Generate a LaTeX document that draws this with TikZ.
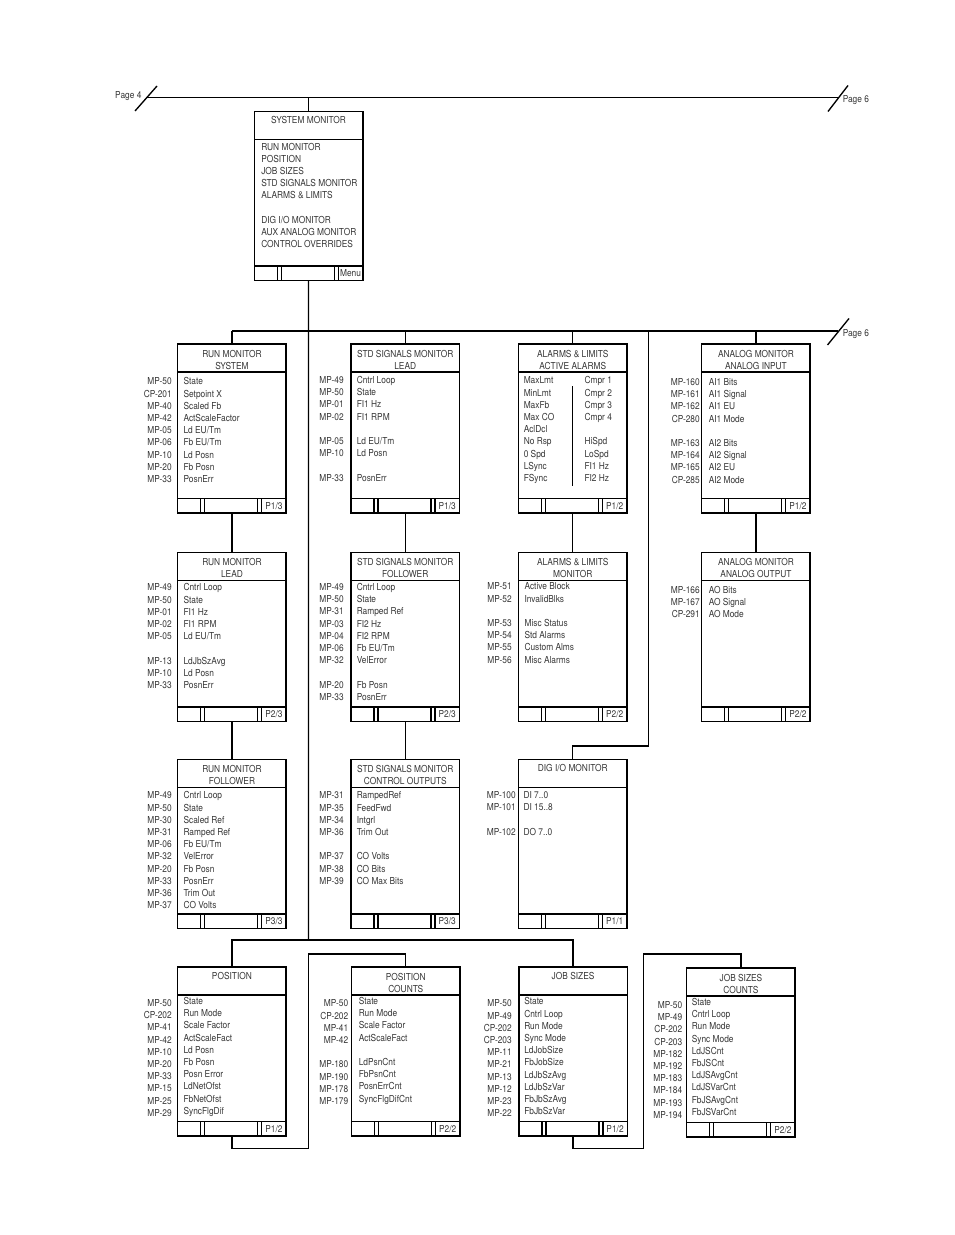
\documentclass[tikz,border=0pt]{standalone}
\usepackage{fontspec}
\setmainfont{TeX Gyre Heros}[FakeStretch=0.87]
\usetikzlibrary{calc}

\newcommand\panel[4]{%
  \node[pbox] (#1) at (#2,#3) {};
  \draw[pline] ($(#1.north west)+(0,28)$) -- ($(#1.north east)+(0,28)$);
  \draw[pline] ($(#1.south west)+(0,-14.5)$) -- ($(#1.south east)+(0,-14.5)$);
  \foreach \o in {23,27,80,84} \draw[pline] ($(#1.south west)+(\o,0)$) -- ++(0,-14.5);
  \node[itxt, anchor=center] (#1-f) at ($(#1.south west)+(96.25,-7.25)$) {#4};
}
\newcommand\ttlone[2]{\node[itxt, anchor=center] (#1-t) at ($(#1.north)+(0,9)$) {#2};}
\newcommand\ttltwo[3]{%
  \node[itxt, anchor=center] (#1-ta) at ($(#1.north)+(0,10)$) {#2};
  \node[itxt, anchor=center] (#1-tb) at ($(#1.north)+(0,22)$) {#3};}
\newcommand\rows[6]{%
  \foreach \r/\c/\t in {#6} {
    \node[itxt, anchor=west] (#1-i\r) at (#3, #4+\r*12.2) {\t};
    \node[itxt, anchor=east] (#1-c\r) at (#2, #4+#5+\r*12.2) {\c};
  }
}
\newcommand\lst[4]{%
  \foreach \r/\t in {#4} \node[itxt, anchor=west] (#1-\r) at (#2, #3+\r*12.2) {\t};
}

\begin{document}
\begin{tikzpicture}[x=0.75pt,y=-0.75pt,
  every node/.style={font=\fontsize{7.2}{8.6}\selectfont, text=black!78},
  pbox/.style={draw=black, line width=1.1pt, inner sep=0pt, outer sep=0pt,
    minimum width=81.375pt, minimum height=126.75pt, anchor=north west},
  pline/.style={draw=black, line width=1.1pt},
  conn/.style={draw=black, line width=1pt},
  thinl/.style={draw=black, line width=0.8pt},
  itxt/.style={inner sep=0pt, text height=5.17pt, text depth=0pt}]

\fill[white] (0,0) rectangle (954,1235);
\useasboundingbox (0,0) rectangle (954,1235);

% ---------- panels ----------
\panel{sm}{254.3}{111.3}{Menu}
\panel{a1}{177.7}{344}{P1/3}
\panel{b1}{351}{344}{P1/3}
\panel{c1}{518.5}{344}{P1/2}
\panel{d1}{701.7}{344}{P1/2}
\panel{a2}{177.7}{552.5}{P2/3}
\panel{b2}{351}{552.5}{P2/3}
\panel{c2}{518.5}{552.5}{P2/2}
\panel{d2}{701.7}{552.5}{P2/2}
\panel{a3}{177.7}{759.5}{P3/3}
\panel{b3}{351}{759.5}{P3/3}
\panel{c3}{518.5}{759.5}{P1/1}
\panel{a4}{177.7}{967}{P1/2}
\panel{b4}{351.5}{967}{P2/2}
\panel{c4}{518.8}{967}{P1/2}
\panel{e4}{686.7}{968}{P2/2}

% ---------- titles ----------
\ttlone{sm}{SYSTEM MONITOR}
\ttltwo{a1}{RUN MONITOR}{SYSTEM}
\ttltwo{b1}{STD SIGNALS MONITOR}{LEAD}
\ttltwo{c1}{ALARMS \& LIMITS}{ACTIVE ALARMS}
\ttltwo{d1}{ANALOG MONITOR}{ANALOG INPUT}
\ttltwo{a2}{RUN MONITOR}{LEAD}
\ttltwo{b2}{STD SIGNALS MONITOR}{FOLLOWER}
\ttltwo{c2}{ALARMS \& LIMITS}{MONITOR}
\ttltwo{d2}{ANALOG MONITOR}{ANALOG OUTPUT}
\ttltwo{a3}{RUN MONITOR}{FOLLOWER}
\ttltwo{b3}{STD SIGNALS MONITOR}{CONTROL OUTPUTS}
\ttlone{c3}{DIG I/O MONITOR}
\ttlone{a4}{POSITION}
\ttltwo{b4}{POSITION}{COUNTS}
\ttlone{c4}{JOB SIZES}
\ttltwo{e4}{JOB SIZES}{COUNTS}

% ---------- contents ----------
\lst{sm-i}{261}{146.7}{0/RUN MONITOR,1/POSITION,2/JOB SIZES,3/STD SIGNALS MONITOR,4/ALARMS \& LIMITS,6/{DIG I/O MONITOR},7/AUX ANALOG MONITOR,8/CONTROL OVERRIDES}

\rows{a1}{172}{183.3}{381.5}{0}{0/MP-50/State,1/CP-201/Setpoint X,2/MP-40/Scaled Fb,3/MP-42/ActScaleFactor,4/MP-05/{Ld EU/Tm},5/MP-06/{Fb EU/Tm},6/MP-10/Ld Posn,7/MP-20/Fb Posn,8/MP-33/PosnErr}

\rows{b1}{344}{356.5}{380}{0}{0/MP-49/Cntrl Loop,1/MP-50/State,2/MP-01/FI1 Hz,3/MP-02/FI1 RPM,5/MP-05/{Ld EU/Tm},6/MP-10/Ld Posn,8/MP-33/PosnErr}

\lst{c1l}{523.5}{380.5}{0/MaxLmt,1/MinLmt,2/MaxFb,3/Max CO,4/AclDcl,5/No Rsp,6/0 Spd,7/LSync,8/FSync}
\lst{c1r}{584.3}{380.5}{0/Cmpr 1,1/Cmpr 2,2/Cmpr 3,3/Cmpr 4,5/HiSpd,6/LoSpd,7/FI1 Hz,8/FI2 Hz}
\draw[thinl] ($(c1.north west)+(54,42)$) -- ++(0,100);

\rows{d1}{700}{708.5}{382}{0}{0/MP-160/AI1 Bits,1/MP-161/AI1 Signal,2/MP-162/AI1 EU,3/CP-280/AI1 Mode,5/MP-163/AI2 Bits,6/MP-164/AI2 Signal,7/MP-165/AI2 EU,8/CP-285/AI2 Mode}

\rows{a2}{172}{183.3}{587.5}{0}{0/MP-49/Cntrl Loop,1/MP-50/State,2/MP-01/FI1 Hz,3/MP-02/FI1 RPM,4/MP-05/{Ld EU/Tm},6/MP-13/LdJbSzAvg,7/MP-10/Ld Posn,8/MP-33/PosnErr}

\rows{b2}{344}{356.5}{587}{0}{0/MP-49/Cntrl Loop,1/MP-50/State,2/MP-31/Ramped Ref,3/MP-03/FI2 Hz,4/MP-04/FI2 RPM,5/MP-06/{Fb EU/Tm},6/MP-32/VelError,8/MP-20/Fb Posn,9/MP-33/PosnErr}

\rows{c2}{512}{524.3}{586.5}{0}{0/MP-51/Active Block,1/MP-52/InvalidBlks,3/MP-53/Misc Status,4/MP-54/Std Alarms,5/MP-55/Custom Alms,6/MP-56/Misc Alarms}

\rows{d2}{700}{708.5}{590}{0}{0/MP-166/AO Bits,1/MP-167/AO Signal,2/CP-291/AO Mode}

\rows{a3}{172}{183.3}{795.5}{0}{0/MP-49/Cntrl Loop,1/MP-50/State,2/MP-30/Scaled Ref,3/MP-31/Ramped Ref,4/MP-06/{Fb EU/Tm},5/MP-32/VelError,6/MP-20/Fb Posn,7/MP-33/PosnErr,8/MP-36/Trim Out,9/MP-37/CO Volts}

\rows{b3}{344}{356.5}{795.5}{0}{0/MP-31/RampedRef,1/MP-35/FeedFwd,2/MP-34/Intgrl,3/MP-36/Trim Out,5/MP-37/CO Volts,6/MP-38/CO Bits,7/MP-39/CO Max Bits}

\rows{c3}{516}{523.3}{795}{0}{0/MP-100/{DI 7..0},1/MP-101/{DI 15..8},3/MP-102/{DO 7..0}}

\rows{a4}{172}{183.3}{1001}{2}{0/MP-50/State,1/CP-202/Run Mode,2/MP-41/Scale Factor,3/MP-42/ActScaleFact,4/MP-10/Ld Posn,5/MP-20/Fb Posn,6/MP-33/Posn Error,7/MP-15/LdNetOfst,8/MP-25/FbNetOfst,9/MP-29/SyncFlgDif}

\rows{b4}{348.5}{358.5}{1001}{2.5}{0/MP-50/State,1/CP-202/Run Mode,2/MP-41/Scale Factor,3/MP-42/ActScaleFact,5/MP-180/LdPsnCnt,6/MP-190/FbPsnCnt,7/MP-178/PosnErrCnt,8/MP-179/SyncFlgDifCnt}

\rows{c4}{512}{524}{1001.5}{2}{0/MP-50/State,1/MP-49/Cntrl Loop,2/CP-202/Run Mode,3/CP-203/Sync Mode,4/MP-11/LdJobSize,5/MP-21/FbJobSize,6/MP-13/LdJbSzAvg,7/MP-12/LdJbSzVar,8/MP-23/FbJbSzAvg,9/MP-22/FbJbSzVar}

\rows{e4}{682.5}{691.5}{1002}{3}{0/MP-50/State,1/MP-49/Cntrl Loop,2/CP-202/Run Mode,3/CP-203/Sync Mode,4/MP-182/LdJSCnt,5/MP-192/FbJSCnt,6/MP-183/LdJSAvgCnt,7/MP-184/LdJSVarCnt,8/MP-193/FbJSAvgCnt,9/MP-194/FbJSVarCnt}

% ---------- page references ----------
\coordinate (p4) at (146,97.5);
\coordinate (p6a) at (838,97.5);
\coordinate (p6b) at (838,331);
\node[itxt, anchor=east] (pg4) at (141.7,95) {Page 4};
\node[itxt, anchor=west] (pg6a) at (842.5,99) {Page 6};
\node[itxt, anchor=west] (pg6b) at (842.5,332.7) {Page 6};
\draw[conn] ($(p4)+(-11,13.5)$) -- ($(p4)+(11,-11.5)$);
\draw[conn] ($(p6a)+(-10,14)$) -- ($(p6a)+(10,-12)$);
\draw[conn] ($(p6b)+(-10.5,14)$) -- ($(p6b)+(11,-12.5)$);

% ---------- connectors ----------
\coordinate (bb) at (308.5,940);
\coordinate (dv) at (648.5,331);
\coordinate (dk) at (648.5,746);
\coordinate (lk1) at (308.5,1148.5);
\coordinate (lk1t) at (308.5,954);
\coordinate (lk2) at (643.5,1148.5);
\coordinate (lk2t) at (643.5,954);

\draw[conn] (p4) -- (p6a);
\draw[conn] (sm.north) -- (sm.north |- p4);
\draw[conn] (sm.south) -- (bb);
\draw[conn] (a1.north |- p6b) -- (p6b);
\draw[conn] (a1.north) -- (a1.north |- p6b);
\draw[conn] (b1.north) -- (b1.north |- p6b);
\draw[conn] (c1.north) -- (c1.north |- p6b);
\draw[conn] (d1.north) -- (d1.north |- p6b);
\draw[conn] (dv) -- (dk) -| (c3.north);

\draw[conn] (a1.south) -- (a2.north);
\draw[conn] (a2.south) -- (a3.north);
\draw[conn] (b1.south) -- (b2.north);
\draw[conn] (b2.south) -- (b3.north);
\draw[conn] (c1.south) -- (c2.north);
\draw[conn] (d1.south) -- (d2.north);

\draw[conn] (a4.north) -- (a4.north |- bb) -- (c4.north |- bb) -- (c4.north);
\draw[conn] (a4.south) |- (lk1) -- (lk1t) -| (b4.north);
\draw[conn] (c4.south) |- (lk2) -- (lk2t) -| (e4.north);

\end{tikzpicture}
\end{document}
